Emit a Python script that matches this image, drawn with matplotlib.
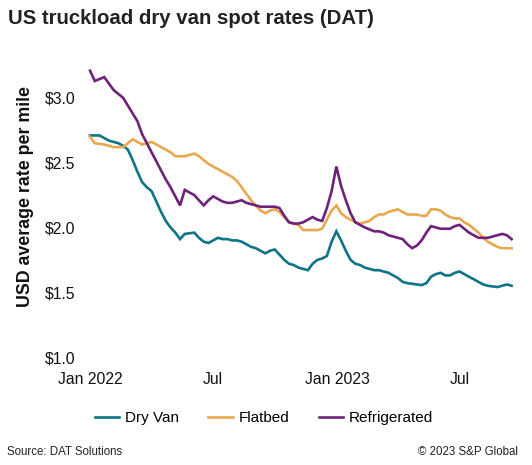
import numpy as np
import pandas as pd
import matplotlib
matplotlib.use("Agg")
import matplotlib.pyplot as plt
import matplotlib.dates as mdates
from matplotlib.ticker import FuncFormatter

plt.rcParams['font.family'] = ['Liberation Sans', 'DejaVu Sans']

# weekly DAT spot rates, USD per mile
weeks = pd.date_range("2022-01-01", periods=90, freq="7D")

dry_van = [2.71, 2.71, 2.71, 2.69, 2.67, 2.66, 2.65, 2.63, 2.60, 2.52,
           2.43, 2.35, 2.31, 2.28, 2.20, 2.12, 2.05, 2.00, 1.96, 1.91,
           1.95, 1.955, 1.96, 1.92, 1.89, 1.88, 1.90, 1.92, 1.91, 1.91,
           1.90, 1.90, 1.89, 1.87, 1.85, 1.84, 1.82, 1.80, 1.82, 1.83,
           1.79, 1.75, 1.72, 1.71, 1.69, 1.68, 1.67, 1.72, 1.75, 1.76,
           1.78, 1.89, 1.97, 1.90, 1.82, 1.75, 1.72, 1.71, 1.69, 1.68,
           1.67, 1.67, 1.66, 1.65, 1.63, 1.61, 1.58, 1.57, 1.565, 1.56,
           1.555, 1.57, 1.62, 1.64, 1.65, 1.63, 1.63, 1.65, 1.66, 1.64,
           1.62, 1.60, 1.58, 1.56, 1.55, 1.545, 1.54, 1.55, 1.56, 1.55]

flatbed = [2.70, 2.65, 2.645, 2.64, 2.63, 2.62, 2.62, 2.62, 2.65, 2.68,
           2.66, 2.64, 2.65, 2.66, 2.64, 2.62, 2.60, 2.58, 2.55, 2.55,
           2.55, 2.56, 2.57, 2.55, 2.52, 2.49, 2.47, 2.45, 2.43, 2.41,
           2.39, 2.36, 2.31, 2.26, 2.21, 2.17, 2.13, 2.11, 2.13, 2.14,
           2.12, 2.08, 2.04, 2.03, 2.02, 1.98, 1.98, 1.98, 1.98, 1.99,
           2.06, 2.13, 2.17, 2.11, 2.08, 2.06, 2.04, 2.03, 2.04, 2.05,
           2.08, 2.10, 2.10, 2.12, 2.13, 2.14, 2.12, 2.10, 2.10, 2.10,
           2.09, 2.09, 2.14, 2.14, 2.13, 2.10, 2.08, 2.07, 2.07, 2.04,
           2.02, 1.99, 1.96, 1.92, 1.89, 1.87, 1.85, 1.84, 1.84, 1.84]

refrigerated = [3.21, 3.13, 3.145, 3.16, 3.11, 3.06, 3.03, 3.00, 2.94, 2.88,
                2.82, 2.72, 2.65, 2.58, 2.51, 2.44, 2.37, 2.31, 2.24, 2.17,
                2.29, 2.27, 2.25, 2.21, 2.17, 2.21, 2.24, 2.22, 2.20, 2.19,
                2.19, 2.20, 2.21, 2.19, 2.18, 2.17, 2.16, 2.16, 2.16, 2.16,
                2.15, 2.09, 2.04, 2.03, 2.03, 2.04, 2.06, 2.08, 2.06, 2.05,
                2.15, 2.28, 2.47, 2.32, 2.21, 2.11, 2.04, 2.02, 2.00, 1.985,
                1.97, 1.97, 1.96, 1.94, 1.93, 1.92, 1.91, 1.87, 1.84, 1.86,
                1.90, 1.96, 2.01, 2.00, 1.99, 1.99, 1.99, 2.01, 2.02, 1.99,
                1.96, 1.94, 1.92, 1.92, 1.92, 1.93, 1.94, 1.95, 1.94, 1.91]

series = ["Dry Van", "Flatbed", "Refrigerated"]
colors = ["#0e7486", "#e9a84f", "#6e2279"]

W, H = 532, 465
fig = plt.figure(figsize=(W / 100, H / 100), dpi=100)
ax = fig.add_axes([84 / W, 1 - 363.5 / H, (520 - 84) / W, (363.5 - 59) / H])

for name, vals, c in zip(series, [dry_van, flatbed, refrigerated], colors):
    ax.plot(weeks, vals, color=c, lw=1.9, label=name, solid_joinstyle="miter")

start = pd.Timestamp("2022-01-01")
ax.set_xlim(start - pd.Timedelta(days=8.9), start + pd.Timedelta(days=635.4))
ax.set_ylim(0.95, 3.3)
ax.set_yticks([1.0, 1.5, 2.0, 2.5, 3.0])
ax.yaxis.set_major_formatter(FuncFormatter(lambda v, p: f"${v:.1f}"))

xt = pd.to_datetime(["2022-01-01", "2022-07-01", "2023-01-01", "2023-07-01"])
ax.set_xticks(xt)
ax.set_xticklabels(["Jan 2022", "Jul", "Jan 2023", "Jul"])

for s in ax.spines.values():
    s.set_visible(False)
ax.tick_params(length=0, labelsize=11.3, colors="#111111")
ax.tick_params(axis="x", pad=6)
ax.tick_params(axis="y", pad=6)

ax.set_ylabel("USD average rate per mile", fontsize=12.8, fontweight="bold",
              color="#111111", va="center")
ax.yaxis.set_label_coords(-0.135, 0.547)

fig.text(8 / W, 1 - 18 / H, "US truckload dry van spot rates (DAT)",
         fontsize=14.7, fontweight="bold", color="#222222", va="center", ha="left")

fig.legend(loc="center", bbox_to_anchor=(264 / W, 1 - 418 / H), ncol=3,
           frameon=False, fontsize=11, handlelength=1.6, handletextpad=0.4,
           columnspacing=1.9)

fig.text(7 / W, 1 - 452 / H, "Source: DAT Solutions", fontsize=8.3,
         color="#222222", va="center", ha="left")
fig.text(518 / W, 1 - 452 / H, "\u00a9 2023 S&P Global", fontsize=8.3,
         color="#222222", va="center", ha="right")

fig.savefig("out.png", dpi=100)
